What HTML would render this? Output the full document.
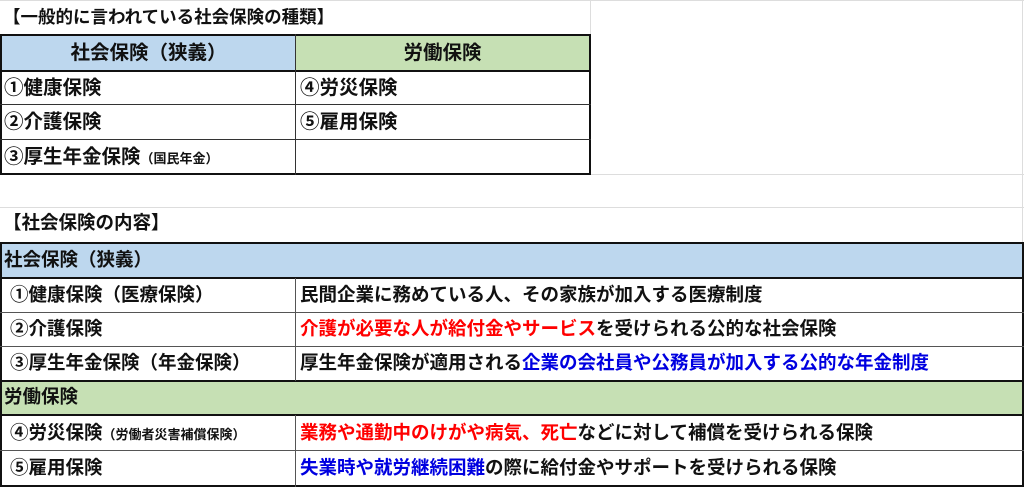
<!DOCTYPE html>
<html><head><meta charset="utf-8"><style>
body{margin:0;width:1024px;height:488px;background:#fff;position:relative;overflow:hidden;font-family:"Liberation Sans","Noto Sans CJK JP",sans-serif;font-weight:bold;color:#111}
div{position:absolute;box-sizing:border-box}
.t{font-size:18.5px;line-height:22px;white-space:nowrap}
.u{font-size:19.5px;line-height:22px;white-space:nowrap}
.g{background:#ddd}
.r{color:#f00}.b{color:#0000e0}
small{font-size:13px}
</style></head><body>
<div class="g" style="left:590px;top:0;width:1px;height:174px"></div>
<div class="g" style="left:0;top:174px;width:1024px;height:1px"></div>
<div class="g" style="left:0;top:207px;width:1024px;height:1px"></div>
<div class="g" style="left:1022px;top:0;width:1px;height:242px"></div>
<div class="g" style="left:0;top:0;width:1024px;height:1px"></div>

<div class="t" style="left:3px;top:6px;font-size:17.5px">【一般的に言われている社会保険の種類】</div>

<div style="left:0;top:34px;width:591px;height:141px;border:2px solid #111"></div>
<div style="left:2px;top:36px;width:293px;height:34px;background:#bdd7ee"></div>
<div style="left:296px;top:36px;width:293px;height:34px;background:#c6e0b4"></div>
<div style="left:0;top:70px;width:591px;height:2px;background:#111"></div>
<div style="left:0;top:104px;width:591px;height:1px;background:#333"></div>
<div style="left:0;top:139px;width:591px;height:1px;background:#333"></div>
<div style="left:295px;top:34px;width:1px;height:141px;background:#333"></div>
<div class="u" style="left:2px;top:42px;width:293px;text-align:center">社会保険（狭義）</div>
<div class="u" style="left:296px;top:42px;width:293px;text-align:center">労働保険</div>
<div class="u" style="left:4px;top:77px">①健康保険</div>
<div class="u" style="left:300px;top:77px">④労災保険</div>
<div class="u" style="left:4px;top:111px">②介護保険</div>
<div class="u" style="left:300px;top:111px">⑤雇用保険</div>
<div class="u" style="left:4px;top:146px">③厚生年金保険<small>（国民年金）</small></div>

<div class="t" style="left:3px;top:212px">【社会保険の内容】</div>

<div style="left:0;top:242px;width:1024px;height:245px;border:2px solid #111"></div>
<div style="left:2px;top:244px;width:1020px;height:33px;background:#bdd7ee"></div>
<div style="left:2px;top:381px;width:1020px;height:33px;background:#c6e0b4"></div>
<div style="left:0;top:277px;width:1024px;height:2px;background:#111"></div>
<div style="left:0;top:312px;width:1024px;height:1px;background:#555"></div>
<div style="left:0;top:346px;width:1024px;height:1px;background:#555"></div>
<div style="left:0;top:380px;width:1024px;height:2px;background:#111"></div>
<div style="left:0;top:414px;width:1024px;height:2px;background:#111"></div>
<div style="left:0;top:450px;width:1024px;height:1px;background:#555"></div>
<div style="left:295px;top:278px;width:1px;height:103px;background:#555"></div>
<div style="left:295px;top:415px;width:1px;height:72px;background:#555"></div>

<div class="t" style="left:4px;top:249px">社会保険（狭義）</div>
<div class="t" style="left:10px;top:284px">①健康保険（医療保険）</div>
<div class="t" style="left:300px;top:284px">民間企業に務めている人、その家族が加入する医療制度</div>
<div class="t" style="left:10px;top:318px">②介護保険</div>
<div class="t" style="left:300px;top:318px"><span class="r">介護が必要な人が給付金やサービス</span>を受けられる公的な社会保険</div>
<div class="t" style="left:10px;top:352px">③厚生年金保険（年金保険）</div>
<div class="t" style="left:300px;top:352px">厚生年金保険が適用される<span class="b">企業の会社員や公務員が加入する公的な年金制度</span></div>
<div class="t" style="left:4px;top:386px">労働保険</div>
<div class="t" style="left:10px;top:422px">④労災保険<small>（労働者災害補償保険）</small></div>
<div class="t" style="left:300px;top:422px"><span class="r">業務や通勤中のけがや病気、死亡</span>などに対して補償を受けられる保険</div>
<div class="t" style="left:10px;top:457px">⑤雇用保険</div>
<div class="t" style="left:300px;top:457px"><span class="b">失業時や就労継続困難</span>の際に給付金やサポートを受けられる保険</div>
</body></html>
